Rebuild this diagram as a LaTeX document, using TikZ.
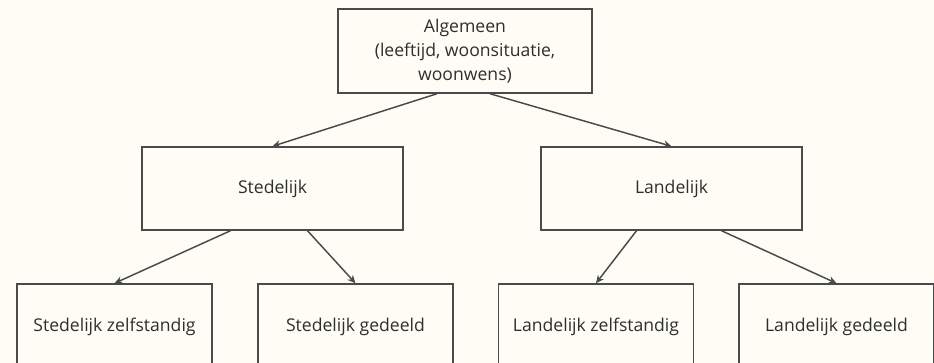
\documentclass[tikz,border=0pt]{standalone}
\usepackage{fontspec}
\setmainfont{Open Sans}
\usetikzlibrary{arrows.meta,calc}
\definecolor{bgc}{HTML}{FDFCF5}
\definecolor{linec}{HTML}{4A4A4A}
\definecolor{textc}{HTML}{2E2E2E}
\begin{document}
\begin{tikzpicture}[x=0.75pt,y=-0.75pt,
  boxnode/.style={draw=linec,line width=1.1pt,fill=bgc,rectangle,text=textc,
    font=\fontsize{13.2}{18}\selectfont,align=center,inner sep=0pt},
  conn/.style={draw=linec,line width=1.1pt,-{Stealth[length=6pt,width=5.5pt]}}]
\useasboundingbox[fill=bgc] (0,0) rectangle (934,363);
\clip (0,0) rectangle (934,363);
\node[boxnode,minimum width={254*0.75pt},minimum height={84*0.75pt}] (top) at (465,51)
  {Algemeen\\(leeftijd, woonsituatie,\\woonwens)};
\node[boxnode,minimum width={261*0.75pt},minimum height={83*0.75pt}] (sted) at (272.5,188.5) {Stedelijk};
\node[boxnode,minimum width={261*0.75pt},minimum height={83*0.75pt}] (land) at (671.5,188.5) {Landelijk};
\node[boxnode,minimum width={195*0.75pt},minimum height={86*0.75pt}] (sz) at (114.5,327) {Stedelijk zelfstandig};
\node[boxnode,minimum width={195*0.75pt},minimum height={86*0.75pt}] (sg) at (355.5,327) {Stedelijk gedeeld};
\node[boxnode,minimum width={195*0.75pt},minimum height={86*0.75pt}] (lz) at (596,327) {Landelijk zelfstandig};
\node[boxnode,minimum width={195*0.75pt},minimum height={86*0.75pt}] (lg) at (836.5,327) {Landelijk gedeeld};
\draw[conn] ($(top.south)+(-28,0)$) -- (sted.north);
\draw[conn] ($(top.south)+(25,0)$) -- (land.north);
\draw[conn] ($(sted.south)+(-42,0)$) -- (sz.north);
\draw[conn] ($(sted.south)+(35,0)$) -- (sg.north);
\draw[conn] ($(land.south)+(-35,0)$) -- (lz.north);
\draw[conn] ($(land.south)+(50,0)$) -- (lg.north);
\end{tikzpicture}
\end{document}
